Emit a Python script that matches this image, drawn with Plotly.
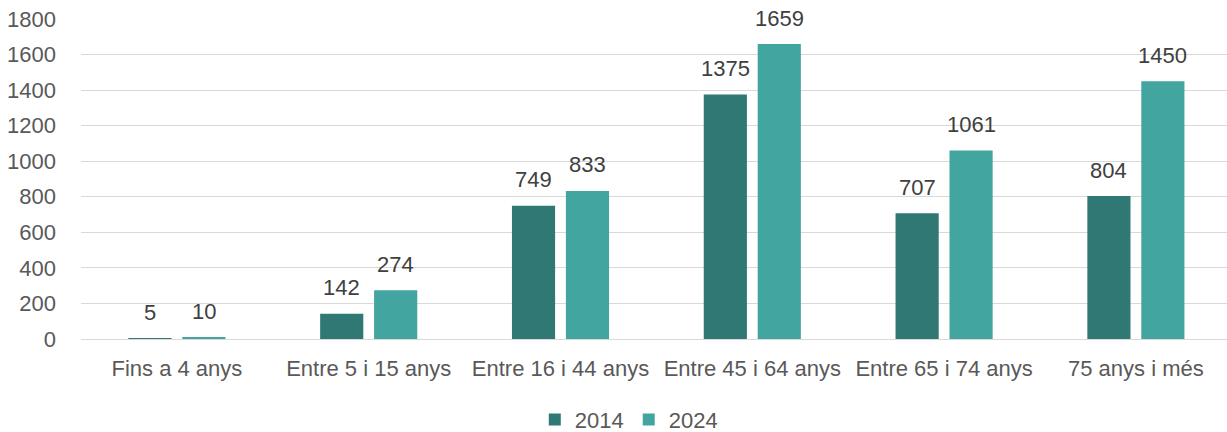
import plotly.graph_objects as go

categories = ["Fins a 4 anys", "Entre 5 i 15 anys", "Entre 16 i 44 anys",
              "Entre 45 i 64 anys", "Entre 65 i 74 anys", "75 anys i més"]
series_names = ["2014", "2024"]
values_2014 = [5, 142, 749, 1375, 707, 804]
values_2024 = [10, 274, 833, 1659, 1061, 1450]
y_ticks = [0, 200, 400, 600, 800, 1000, 1200, 1400, 1600, 1800]

colors = ["#2F7873", "#42A59F"]
FONT = "Liberation Sans"
FS = 22
BARGAP = 0.4375
BARGROUPGAP = 0.2

idx = list(range(len(categories)))
fig = go.Figure()
for name, vals, col in zip(series_names, [values_2014, values_2024], colors):
    fig.add_trace(go.Bar(x=idx, y=vals, name=name, marker_color=col,
                         marker_line_width=0))

# data labels
slot = (1 - BARGAP) / 2
annotations = []
for s, vals in enumerate([values_2014, values_2024]):
    off = (s - 0.5) * slot
    for i, v in enumerate(vals):
        annotations.append(dict(x=i + off, y=v, xref="x", yref="y", text=str(v),
                                showarrow=False, yanchor="middle", yshift=26,
                                font=dict(family=FONT, size=FS, color="#404040")))

fig.update_layout(
    width=1227, height=432,
    margin=dict(l=81, r=0, t=19, b=93, autoexpand=False),
    paper_bgcolor="white", plot_bgcolor="white",
    barmode="group", bargap=BARGAP, bargroupgap=BARGROUPGAP,
    font=dict(family=FONT, size=FS, color="#595959"),
    annotations=annotations,
    showlegend=True,
    legend=dict(orientation="h", xanchor="center", x=0.478, yanchor="middle", y=-0.252,
                font=dict(family=FONT, size=FS, color="#595959"),
                itemwidth=30, traceorder="normal"),
    xaxis=dict(tickmode="array", tickvals=idx, ticktext=categories,
               range=[-0.5, 5.475], showgrid=False, zeroline=False,
               showline=False, ticks="", ticklabelstandoff=14, automargin=False),
    yaxis=dict(range=[0, 1800], tickvals=y_ticks, showgrid=True,
               gridcolor="#D9D9D9", gridwidth=1, zeroline=True,
               zerolinecolor="#D9D9D9", zerolinewidth=1, showline=False,
               ticks="", ticklabelstandoff=24, automargin=False),
)

fig.write_html("out.html", config={"displayModeBar": False},
               post_script="document.body.style.margin='0';document.body.style.overflow='hidden';")
